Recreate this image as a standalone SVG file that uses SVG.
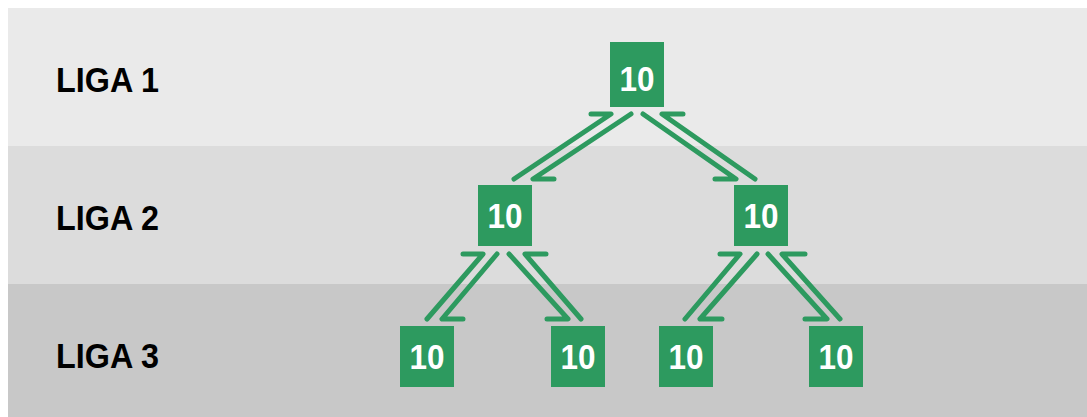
<svg xmlns="http://www.w3.org/2000/svg" width="1087" height="417" viewBox="0 0 1087 417">
<style>
.band1{fill:#eaeaea}.band2{fill:#dcdcdc}.band3{fill:#c8c8c8}
.lbl{font-family:"Liberation Sans",Arial,sans-serif;font-weight:bold;font-size:35px;fill:#000}
.box{fill:#2d9a5f}
.num{font-family:"Liberation Sans",Arial,sans-serif;font-weight:bold;font-size:35px;fill:#fff;text-anchor:middle}
.con{fill:none;stroke:#2d9a5f;stroke-width:5;stroke-linecap:round;stroke-linejoin:round}
</style>
<rect x="0" y="0" width="1087" height="417" fill="#fff"/>
<g id="bands">
<rect class="band1" x="8" y="8" width="1079" height="138"/>
<rect class="band2" x="8" y="146" width="1079" height="138"/>
<rect class="band3" x="8" y="284" width="1079" height="133"/>
</g>
<g id="labels">
<text class="lbl" x="56" y="92" textLength="103" lengthAdjust="spacingAndGlyphs">LIGA 1</text>
<text class="lbl" x="56" y="230" textLength="103" lengthAdjust="spacingAndGlyphs">LIGA 2</text>
<text class="lbl" x="56" y="368" textLength="103" lengthAdjust="spacingAndGlyphs">LIGA 3</text>
</g>
<g id="connectors">
<path class="con" d="M514,179 L611,114 L591,114"/>
<path class="con" d="M631,114 L533,179 L554,179"/>
<path class="con" d="M643,114 L736,179 L715,179"/>
<path class="con" d="M755,179 L662,114 L683,114"/>
<path class="con" d="M427,319 L483,254 L463,254"/>
<path class="con" d="M497,254 L442,319 L463,319"/>
<path class="con" d="M509,254 L568,319 L547,319"/>
<path class="con" d="M581,319 L525,254 L546,254"/>
<path class="con" d="M685,319 L740,254 L720,254"/>
<path class="con" d="M757,254 L700,319 L722,319"/>
<path class="con" d="M768,254 L827,319 L805,319"/>
<path class="con" d="M840,319 L782,254 L805,254"/>
</g>
<g id="n1"><rect class="box" x="610" y="42" width="54" height="65"/><text class="num" x="637" y="91" textLength="35" lengthAdjust="spacingAndGlyphs">10</text></g>
<g id="n2a"><rect class="box" x="478" y="185" width="54" height="61"/><text class="num" x="505" y="228" textLength="35" lengthAdjust="spacingAndGlyphs">10</text></g>
<g id="n2b"><rect class="box" x="734" y="185" width="54" height="61"/><text class="num" x="761" y="228" textLength="35" lengthAdjust="spacingAndGlyphs">10</text></g>
<g id="n3a"><rect class="box" x="400" y="326" width="54" height="61"/><text class="num" x="427" y="369" textLength="35" lengthAdjust="spacingAndGlyphs">10</text></g>
<g id="n3b"><rect class="box" x="551" y="326" width="54" height="61"/><text class="num" x="578" y="369" textLength="35" lengthAdjust="spacingAndGlyphs">10</text></g>
<g id="n3c"><rect class="box" x="659" y="326" width="54" height="61"/><text class="num" x="686" y="369" textLength="35" lengthAdjust="spacingAndGlyphs">10</text></g>
<g id="n3d"><rect class="box" x="809" y="326" width="54" height="61"/><text class="num" x="836" y="369" textLength="35" lengthAdjust="spacingAndGlyphs">10</text></g>
</svg>
